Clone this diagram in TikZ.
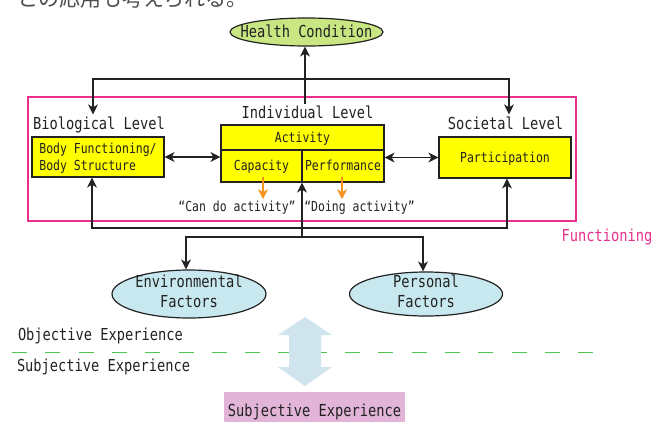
\documentclass[tikz,border=0pt]{standalone}
\usepackage{fontspec}
\setmainfont[FakeStretch=0.83]{DejaVu Sans Mono}
\newfontfamily\jpfont{Noto Sans CJK JP}
\usetikzlibrary{arrows.meta,shapes.geometric}

\definecolor{ink}{HTML}{222222}
\definecolor{framepink}{HTML}{E8308C}
\definecolor{boxyellow}{HTML}{FFFF00}
\definecolor{hcgreen}{HTML}{C8E682}
\definecolor{factorblue}{HTML}{C8E8F0}
\definecolor{orangearr}{HTML}{F7931E}
\definecolor{dashgreen}{HTML}{4CC94C}
\definecolor{bigarrow}{HTML}{CFE4EC}
\definecolor{subjpink}{HTML}{E1B4D8}

\newcommand\bigsize{\fontsize{16.5}{20}\selectfont}
\newcommand\smallsize{\fontsize{13.8}{17}\selectfont}

\begin{document}
\begin{tikzpicture}[x=1pt,y=-1pt,
  >={Stealth[length=10pt,width=10pt,inset=3pt]},
  lbl/.style={font=\bigsize, text=ink, inner sep=0pt, outer sep=2pt, anchor=base},
  yfill/.style={draw=ink, line width=1.2pt, fill=boxyellow, font=\smallsize, text=ink, inner sep=0pt},
  ybox/.style={yfill, text height=10pt, text depth=1pt},
  factor/.style={ellipse, draw=ink, line width=1.2pt, fill=factorblue, font=\bigsize,
    text=ink, align=center, inner xsep=0pt, inner ysep=-4pt, text depth=5.4pt},
  arr/.style={draw=ink, line width=1.2pt, ->},
  darr/.style={draw=ink, line width=1.2pt, <->},
  oarr/.style={draw=orangearr, line width=1.4pt, -{Stealth[length=10pt,width=10pt,inset=3pt]}},
]
\useasboundingbox (0,0) rectangle (666,421);
\fill[white] (0,0) rectangle (666,421);

% closing line of the preceding paragraph
\begin{scope}
  \clip (0,0) rectangle (666,421);
  \node[anchor=base west, inner sep=0pt, font=\jpfont\fontsize{21}{24}\selectfont,
        text=black!70] (intro) at (17,6) {との応用も考えられる。};
\end{scope}

% health condition
\node[ellipse, draw=ink, line width=1.2pt, fill=hcgreen, font=\bigsize, text=ink,
      minimum width=153pt, minimum height=28pt, inner xsep=-13pt, inner ysep=0pt,
      text height=12pt, text depth=0.6pt] (hc) at (306.5,32) {Health Condition};

% functioning frame
\node[draw=framepink, line width=1.2pt, minimum width=548pt, minimum height=124pt,
      inner sep=0pt] (frame) at (302,159) {};
\node[lbl, text=framepink] (func) at (607,241) {Functioning};

% level headings
\node[lbl] (biolab) at (99,129) {Biological Level};
\node[lbl] (indlab) at (307.5,118) {Individual Level};
\node[lbl] (soclab) at (505.5,129) {Societal Level};

% component boxes
\node[yfill, minimum width=132pt, minimum height=40pt, align=left, text depth=0pt]
      (body) at (98,157) {Body Functioning/\\Body Structure};
\node[ybox, minimum width=163pt, minimum height=25pt] (acttop) at (302.5,137.5) {Activity};
\node[ybox, minimum width=81pt, minimum height=32pt] (cap) at (261.5,166) {Capacity};
\node[ybox, minimum width=82pt, minimum height=32pt] (perf) at (343,166) {Performance};
\node[ybox, minimum width=132pt, minimum height=41pt] (part) at (505,157.5) {Participation};

\node[lbl, font=\smallsize] (cando) at (237,211.7) {“Can do activity”};
\node[lbl, font=\smallsize] (doing) at (359.5,211.7) {“Doing activity”};

% contextual factors
\node[factor, minimum width=154pt, minimum height=48pt] (env) at (189,294) {Environmental\\Factors};
\node[factor, minimum width=153pt, minimum height=44pt] (pers) at (426,294) {Personal\\Factors};

% routing points of the connectors
\coordinate (hcfoot) at (305,104);
\coordinate (tl) at (93,79);
\coordinate (tr) at (509,79);
\coordinate (bl) at (92,228);
\coordinate (br) at (507,228);
\coordinate (hub) at (302,237);
\coordinate (el) at (186,237);
\coordinate (er) at (423,237);

% connectors
\draw[arr] (hcfoot) -- (hcfoot |- hc.south);
\draw[darr] (tl |- biolab.north) -- (tl) -- (tr) -- (tr |- soclab.north);
\draw[darr] (body.east) -- (body.east -| cap.west);
\draw[darr] (part.west -| perf.east) -- (part.west);
\draw[darr] (bl |- body.south) -- (bl) -- (br) -- (br |- part.south);
\draw[arr] (hub) -- (hub |- cap.south);
\draw[darr] (el |- env.north) -- (el) -- (er) -- (er |- pers.north);
\draw[oarr] ([shift={(1.5,-6)}]cap.south) -- ([xshift=1.5pt]cap.south |- cando.north);
\draw[oarr] ([shift={(-1,-6)}]perf.south) -- ([xshift=-1pt]perf.south |- doing.north);

% objective / subjective divide
\node[lbl, anchor=base west] (obj) at (16,340.7) {Objective Experience};
\node[lbl, anchor=base west] (subj) at (15,371.7) {Subjective Experience};
\coordinate (divl) at (12,352.5);
\coordinate (divr) at (602,352.5);
\draw[dashgreen, line width=1.5pt, dash pattern=on 15pt off 18.3pt] (divl) -- (divr);

\fill[bigarrow] (305,317) -- (332,335) -- (321,335) -- (321,367) -- (332,367)
  -- (305,386) -- (278,367) -- (289,367) -- (289,335) -- (278,335) -- cycle;

\node[fill=subjpink, font=\bigsize, text=ink, minimum width=181pt, minimum height=37pt,
      inner sep=0pt, text height=12pt, text depth=0pt] (subjbox) at (314.5,410.5)
      {Subjective Experience};
\end{tikzpicture}
\end{document}
